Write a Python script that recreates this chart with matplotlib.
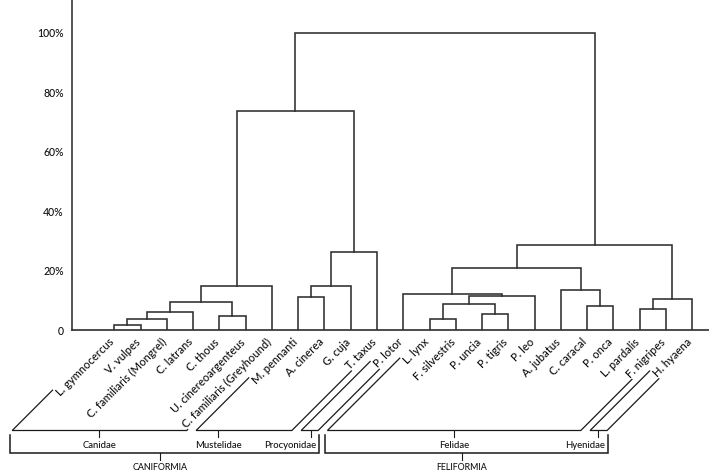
import matplotlib
matplotlib.use("Agg")
import matplotlib.pyplot as plt
import numpy as np

plt.rcParams['font.family'] = ['Lato', 'DejaVu Sans']
plt.rcParams['font.weight'] = 'medium'

# Arten in der Reihenfolge der Aeste
species = ['L. gymnocercus', 'V. vulpes', 'C. familiaris (Mongrel)', 'C. latrans',
           'C. thous', 'U. cinereoargenteus', 'C. familiaris (Greyhound)', 'M. pennanti',
           'A. cinerea', 'G. cuja', 'T. taxus', 'P. lotor', 'L. lynx', 'F. silvestris',
           'P. uncia', 'P. tigris', 'P. leo', 'A. jubatus', 'C. caracal', 'P. onca',
           'L. pardalis', 'F. nigripes', 'H. hyaena']

# Verknuepfungen: ids >= 23 sind fruehere Knoten (23 = erste Zeile)
merge_a = [0, 23, 24, 4, 25, 27, 7, 29, 30, 28, 12, 14, 33, 35, 11, 18, 17, 37, 20, 41, 40, 32]
merge_b = [1, 2, 3, 5, 26, 6, 8, 9, 10, 31, 13, 15, 34, 16, 36, 19, 38, 39, 21, 22, 42, 43]
merge_h = [1.8, 3.7, 6.1, 4.7, 9.6, 14.8, 11.3, 14.8, 26.4, 73.7, 3.7, 5.6, 8.7, 11.4,
           12.2, 8.2, 13.4, 21.0, 7.2, 10.6, 28.6, 100.0]

y_ticks = [0, 20, 40, 60, 80, 100]
y_ticklabels = ['0', '20%', '40%', '60%', '80%', '100%']

# Familien (erstes / letztes Blatt)
families = ['Canidae', 'Mustelidae', 'Procyonidae', 'Felidae', 'Hyenidae']
family_first = [0, 7, 11, 12, 22]
family_last = [6, 10, 11, 21, 22]
family_tick_pos = [0.5, 0.23, 0.6, 0.5, 0.45]

suborders = ['CANIFORMIA', 'FELIFORMIA']
suborder_first = [0, 3]
suborder_last = [2, 4]

W, H = 709, 472
TXT = '#111111'
LINE = '#2e2e2e'

fig = plt.figure(figsize=(W / 100, H / 100), dpi=100)
ax = fig.add_axes([72 / W, 1 - 330.3 / H, 1 - 72 / W, 330.3 / H])
ax.set_xlim(-1.61, 22.64)
ax.set_ylim(0, 110.95)

# Dendrogramm
node_x = list(range(len(species)))
node_y = [0.0] * len(species)
for a, b, h in zip(merge_a, merge_b, merge_h):
    xa, ya, xb, yb = node_x[a], node_y[a], node_x[b], node_y[b]
    ax.plot([xa, xa, xb, xb], [ya, h, h, yb], color=LINE, lw=1.15, solid_joinstyle='miter')
    node_x.append((xa + xb) / 2)
    node_y.append(h)

for s in ['top', 'right']:
    ax.spines[s].set_visible(False)
ax.spines['left'].set_color('#555555')
ax.spines['left'].set_linewidth(1.4)
ax.spines['bottom'].set_color(LINE)
ax.spines['bottom'].set_linewidth(1.2)
ax.set_xticks([])
ax.set_yticks(y_ticks)
ax.set_yticklabels(y_ticklabels)
ax.tick_params(axis='y', length=0, pad=6, labelsize=7.6, labelcolor=TXT)

labels = []
for i, name in enumerate(species):
    t = ax.annotate(name, xy=(i, 0), xytext=(-2, -10), textcoords='offset pixels',
                    rotation=45, rotation_mode='anchor', ha='right', va='center',
                    fontsize=8.0, color=TXT, annotation_clip=False)
    labels.append(t)

# Klammern unter den Beschriftungen
fig.canvas.draw()
renderer = fig.canvas.get_renderer()
u = np.array([np.cos(np.radians(45)), np.sin(np.radians(45))])
nrm = np.array([-u[1], u[0]])
starts = []
for i, t in enumerate(labels):
    w, _, _ = renderer.get_text_width_height_descent(t.get_text(), t.get_fontproperties(), ismath=False)
    anchor = ax.transData.transform((i, 0)) + np.array([-2, -10])
    starts.append(anchor - w * u)

y_base = H - 430.5


def down_to(p, y):
    return p - (p[1] - y) / u[1] * u


def fline(xs, ys, lw=0.9):
    fig.add_artist(plt.Line2D(np.array(xs) / W, np.array(ys) / H, transform=fig.transFigure,
                              color='#1a1a1a', lw=lw, solid_joinstyle='miter'))


corners = []
for k, fam in enumerate(families):
    top_l = starts[family_first[k]] + 7 * nrm - 1 * u
    top_r = starts[family_last[k]] - 5 * nrm
    cl, cr = down_to(top_l, y_base), down_to(top_r, y_base)
    fline([top_l[0], cl[0], cr[0], top_r[0]], [top_l[1], cl[1], cr[1], top_r[1]])
    tx = cl[0] + family_tick_pos[k] * (cr[0] - cl[0])
    fline([tx, tx], [y_base, y_base - 6.5], lw=0.8)
    corners.append((cl[0], cr[0], tx))

sub_bounds = []
for k, name in enumerate(suborders):
    x0 = corners[suborder_first[k]][0] - 2
    x1 = corners[suborder_last[k]][1] + 1
    sub_bounds.append(x1)
    ytop, ybot = H - 435, H - 453.3
    fline([x0, x0, x1, x1], [ytop, ybot, ybot, ytop], lw=1.1)
    xm = (x0 + x1) / 2 - 5
    fline([xm, xm], [ybot, ybot - 6.7], lw=0.8)
    fig.text(xm / W, (H - 467.7) / H, name, ha='center', va='center', fontsize=6.4, color=TXT)

for k, fam in enumerate(families):
    if family_first[k] == family_last[k]:
        # Einzelfamilien rechtsbuendig an der Klammer
        sub = 0 if k < 3 else 1
        fig.text((sub_bounds[sub] - 3) / W, (H - 445.5) / H, fam, ha='right', va='center',
                 fontsize=6.8, color=TXT)
    else:
        fig.text(corners[k][2] / W, (H - 445.5) / H, fam, ha='center', va='center',
                 fontsize=6.8, color=TXT)

fig.savefig('out.png', dpi=100)
